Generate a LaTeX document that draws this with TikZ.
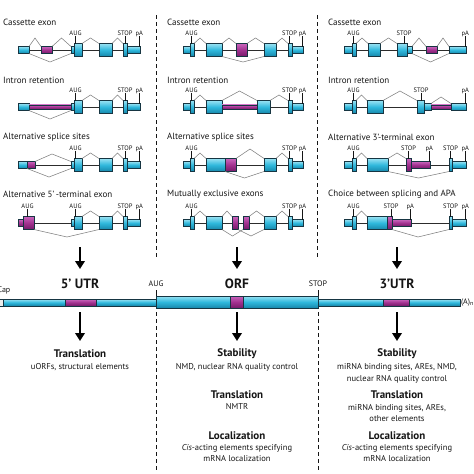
\documentclass[tikz,border=0pt]{standalone}
\usepackage{fontspec}
\setmainfont{PT Sans}
\usetikzlibrary{arrows.meta,backgrounds}
\definecolor{cyM}{HTML}{2FB8DC}
\definecolor{cyL}{HTML}{98E2F3}
\definecolor{cyD}{HTML}{1787AB}
\definecolor{puM}{HTML}{A2318F}
\definecolor{puL}{HTML}{C965BC}
\definecolor{puD}{HTML}{761B69}
\definecolor{exline}{HTML}{163542}
\definecolor{ink}{HTML}{151515}
\definecolor{spl}{HTML}{808080}
\tikzset{
  exc/.style={draw=exline,line width=0.5pt,top color=cyL,bottom color=cyD,middle color=cyM,inner sep=0pt,outer sep=0pt},
  exp/.style={draw=exline,line width=0.5pt,top color=puL,bottom color=puD,middle color=puM,inner sep=0pt,outer sep=0pt},
  capbox/.style={draw=exline,line width=0.5pt,fill=gray!15,inner sep=0pt,outer sep=0pt},
  splice/.style={draw=spl,line width=0.55pt},
  backbone/.style={draw=ink!90,line width=0.8pt},
  tickline/.style={draw=ink,line width=0.6pt},
  glabel/.style={anchor=base,inner sep=0pt,text=ink,font=\fontsize{6.5}{6.5}\selectfont},
  gtitle/.style={anchor=west,inner sep=0pt,text=ink,font=\fontsize{9}{9}\selectfont},
  biglab/.style={inner sep=0pt,text=ink,font=\fontsize{13.5}{13.5}\selectfont\bfseries},
  barlab/.style={inner sep=0pt,text=ink,font=\fontsize{8}{8}\selectfont},
  head/.style={inner sep=0pt,text=ink,font=\fontsize{11}{11}\selectfont\bfseries},
  desc/.style={inner sep=0pt,text=ink,font=\fontsize{8.5}{8.5}\selectfont},
  divider/.style={draw=ink,line width=1pt,dash pattern=on 4pt off 3pt},
  bigarrow/.style={draw=black,line width=2.4pt,-{Triangle[length=8pt,width=9.5pt]}}
}
\newcommand\ex[6]{\node[#6,minimum width={(#3)*1pt-(#2)*1pt},minimum height={#5*1pt}] (#1) at ({(#2+#3)/2},#4) {};}
\newcommand\spl[3]{\draw[splice] (#1) -- (#2) -- (#3);}
\newcommand\gl[5]{\node[glabel] (#1) at (#2,#3) {#5};\draw[tickline] ([yshift=-0.8pt]#1.base) -- (#1.base |- #4.north);}
\begin{document}
\begin{tikzpicture}[x=1pt,y=-1pt]
\useasboundingbox (0,0) rectangle (474,474);

% ---------- dividers
\coordinate (d1a) at (156,15); \coordinate (d1b) at (156,258);
\coordinate (d1c) at (156,312); \coordinate (d1d) at (156,470);
\coordinate (d2a) at (317,15); \coordinate (d2b) at (317,258);
\coordinate (d2c) at (318,312); \coordinate (d2d) at (318,470);
\draw[divider] (d1a) -- (d1b); \draw[divider] (d1c) -- (d1d);
\draw[divider] (d2a) -- (d2b); \draw[divider] (d2c) -- (d2d);

% ---------- titles
\node[gtitle] (t11) at (3,22) {Cassette exon};
\node[gtitle] (t12) at (3,80) {Intron retention};
\node[gtitle] (t13) at (3,137) {Alternative splice sites};
\node[gtitle] (t14) at (3,194) {Alternative 5’\,-terminal exon};
\node[gtitle] (t21) at (167,22) {Cassette exon};
\node[gtitle] (t22) at (167,80) {Intron retention};
\node[gtitle] (t23) at (167,137) {Alternative splice sites};
\node[gtitle] (t24) at (167,194) {Mutually exclusive exons};
\node[gtitle] (t31) at (328,22) {Cassette exon};
\node[gtitle] (t32) at (328,80) {Intron retention};
\node[gtitle] (t33) at (328,137) {Alternative 3’-terminal exon};
\node[gtitle] (t34) at (328,194) {Choice between splicing and APA};

% ================= COLUMN 1
% row 1
\ex{a1}{18}{29}{50}{7}{exc}
\ex{a1p}{41}{52}{50}{7}{exp}
\ex{a1b}{71}{74}{50}{7}{exc}
\ex{a1B}{74}{82}{50}{13}{exc}
\ex{a1c}{99}{112}{50}{13}{exc}
\ex{a1d}{123}{127}{50}{13}{exc}
\ex{a1D}{127}{140}{50}{7}{exc}
\spl{a1.north east}{35,38}{a1p.north west}
\spl{a1p.north east}{61.5,38}{a1b.north west}
\spl{a1B.north east}{90.5,38}{a1c.north west}
\spl{a1c.north east}{117.5,38}{a1d.north west}
\spl{a1.south east}{50,62}{a1b.south west}
\gl{a1l1}{75.5}{35}{a1B}{AUG}
\gl{a1l2}{125}{35}{a1d}{STOP}
\gl{a1l3}{139.3}{35}{a1D}{pA}
% row 2
\ex{a2}{18}{29}{107}{7}{exc}
\ex{a2p}{29}{71}{107}{4.5}{exp}
\ex{a2b}{71}{74}{107}{7}{exc}
\ex{a2B}{74}{82}{107}{13}{exc}
\ex{a2c}{99}{112}{107}{13}{exc}
\ex{a2d}{123}{127}{107}{13}{exc}
\ex{a2D}{127}{140}{107}{7}{exc}
\spl{a2B.north east}{90.5,95}{a2c.north west}
\spl{a2c.north east}{117.5,95}{a2d.north west}
\spl{a2.south east}{50,119}{a2b.south west}
\gl{a2l1}{75.5}{92}{a2B}{AUG}
\gl{a2l2}{125}{92}{a2d}{STOP}
\gl{a2l3}{139.3}{92}{a2D}{pA}
% row 3
\ex{a3}{18}{27}{165}{7}{exc}
\ex{a3p}{27}{35}{165}{7}{exp}
\ex{a3b}{71}{74}{165}{7}{exc}
\ex{a3B}{74}{82}{165}{13}{exc}
\ex{a3c}{99}{112}{165}{13}{exc}
\ex{a3d}{123}{127}{165}{13}{exc}
\ex{a3D}{127}{140}{165}{7}{exc}
\spl{a3p.north east}{52,154}{a3b.north west}
\spl{a3.south east}{49,177}{a3b.south west}
\spl{a3B.north east}{90.5,153}{a3c.north west}
\spl{a3c.north east}{117.5,153}{a3d.north west}
\gl{a3l1}{75.5}{150}{a3B}{AUG}
\gl{a3l2}{125}{150}{a3d}{STOP}
\gl{a3l3}{139.3}{150}{a3D}{pA}
% row 4
\ex{a4}{18}{23}{223}{7}{exp}
\ex{a4P}{23}{34}{223}{13}{exp}
\ex{a4b}{71}{74}{223}{7}{exc}
\ex{a4B}{74}{82}{223}{13}{exc}
\ex{a4c}{99}{112}{223}{13}{exc}
\ex{a4d}{123}{127}{223}{13}{exc}
\ex{a4D}{127}{140}{223}{7}{exc}
\spl{a4B.north east}{90.5,211}{a4c.north west}
\spl{a4c.north east}{117.5,211}{a4d.north west}
\spl{a4P.south east}{67,237}{a4c.south west}
\gl{a4l0}{27.5}{208}{a4P}{AUG}
\gl{a4l1}{75.5}{208}{a4B}{AUG}
\gl{a4l2}{125}{208}{a4d}{STOP}
\gl{a4l3}{139.3}{208}{a4D}{pA}

% ================= COLUMN 2
% row 1
\ex{b1a}{183}{190}{50}{7}{exc}
\ex{b1A}{190}{194}{50}{13}{exc}
\ex{b1b}{206}{222}{50}{13}{exc}
\ex{b1p}{236}{247}{50}{13}{exp}
\ex{b1c}{264}{276}{50}{13}{exc}
\ex{b1d}{288}{292}{50}{13}{exc}
\ex{b1D}{292}{303}{50}{7}{exc}
\spl{b1A.north east}{200,38}{b1b.north west}
\spl{b1b.north east}{229,38}{b1p.north west}
\spl{b1p.north east}{255.5,38}{b1c.north west}
\spl{b1c.north east}{282,38}{b1d.north west}
\spl{b1b.south east}{243,62}{b1c.south west}
\gl{b1l1}{191.5}{35}{b1A}{AUG}
\gl{b1l2}{289.5}{35}{b1d}{STOP}
\gl{b1l3}{302.5}{35}{b1D}{pA}
% row 2
\ex{b2a}{183}{190}{107}{7}{exc}
\ex{b2A}{190}{194}{107}{13}{exc}
\ex{b2b}{206}{222}{107}{13}{exc}
\ex{b2p}{222}{257}{107}{4.5}{exp}
\ex{b2c}{257}{270}{107}{13}{exc}
\ex{b2d}{288}{292}{107}{13}{exc}
\ex{b2D}{292}{303}{107}{7}{exc}
\spl{b2A.north east}{200,95}{b2b.north west}
\spl{b2b.north east}{239.5,91}{b2c.north west}
\spl{b2c.north east}{279,95}{b2d.north west}
\gl{b2l1}{191.5}{92}{b2A}{AUG}
\gl{b2l2}{289.5}{92}{b2d}{STOP}
\gl{b2l3}{302.5}{92}{b2D}{pA}
% row 3
\ex{b3a}{183}{190}{165}{7}{exc}
\ex{b3A}{190}{194}{165}{13}{exc}
\ex{b3b}{206}{225}{165}{13}{exc}
\ex{b3p}{225}{236}{165}{13}{exp}
\ex{b3c}{264}{276}{165}{13}{exc}
\ex{b3d}{288}{292}{165}{13}{exc}
\ex{b3D}{292}{303}{165}{7}{exc}
\spl{b3A.north east}{200,153}{b3b.north west}
\spl{b3p.north east}{250,149}{b3c.north west}
\spl{b3b.south east}{244.5,178}{b3c.south west}
\spl{b3c.north east}{282,153}{b3d.north west}
\gl{b3l1}{191.5}{150}{b3A}{AUG}
\gl{b3l2}{289.5}{150}{b3d}{STOP}
\gl{b3l3}{302.5}{150}{b3D}{pA}
% row 4
\ex{b4a}{183}{190}{223}{7}{exc}
\ex{b4A}{190}{194}{223}{13}{exc}
\ex{b4b}{206}{222}{223}{13}{exc}
\ex{b4m}{232}{238}{223}{13}{exp}
\ex{b4n}{243}{249}{223}{13}{exp}
\ex{b4c}{264}{276}{223}{13}{exc}
\ex{b4d}{288}{292}{223}{13}{exc}
\ex{b4D}{292}{303}{223}{7}{exc}
\spl{b4A.north east}{200,211}{b4b.north west}
\spl{b4b.north east}{227,211}{b4m.north west}
\spl{b4n.north east}{256.5,211}{b4c.north west}
\spl{b4c.north east}{282,211}{b4d.north west}
\spl{b4b.south east}{232.5,236}{b4n.south west}
\spl{b4m.south east}{251,236}{b4c.south west}
\gl{b4l1}{191.5}{208}{b4A}{AUG}
\gl{b4l2}{289.5}{208}{b4d}{STOP}
\gl{b4l3}{302.5}{208}{b4D}{pA}

% ================= COLUMN 3
% row 1
\ex{c1a}{344}{352}{50}{7}{exc}
\ex{c1A}{352}{356}{50}{13}{exc}
\ex{c1b}{368}{380}{50}{13}{exc}
\ex{c1s}{397}{407}{50}{13}{exc}
\ex{c1S}{407}{412}{50}{7}{exc}
\ex{c1p}{426}{437}{50}{7}{exp}
\ex{c1l}{449}{466}{50}{7}{exc}
\spl{c1A.north east}{362,38}{c1b.north west}
\spl{c1b.north east}{388.5,38}{c1s.north west}
\spl{c1S.north east}{419,38}{c1p.north west}
\spl{c1p.north east}{443,38}{c1l.north west}
\spl{c1S.south east}{430.5,62}{c1l.south west}
\gl{c1l1}{353.5}{35}{c1A}{AUG}
\gl{c1l2}{404}{35}{c1s}{STOP}
\gl{c1l3}{465.3}{35}{c1l}{pA}
% row 2
\ex{c2a}{344}{352}{107}{7}{exc}
\ex{c2A}{352}{356}{107}{13}{exc}
\ex{c2b}{367}{383}{107}{13}{exc}
\ex{c2s}{417}{424}{107}{13}{exc}
\ex{c2S}{424}{431}{107}{7}{exc}
\ex{c2p}{431}{451}{107}{4.5}{exp}
\ex{c2l}{451}{466}{107}{7}{exc}
\spl{c2A.north east}{361.5,95}{c2b.north west}
\spl{c2b.north east}{400,91}{c2s.north west}
\spl{c2S.north east}{441,97}{c2l.north west}
\gl{c2l1}{353.5}{92}{c2A}{AUG}
\gl{c2l2}{421}{92}{c2s}{STOP}
\gl{c2l3}{465.3}{92}{c2l}{pA}
% row 3
\ex{c3a}{344}{352}{165}{7}{exc}
\ex{c3A}{352}{356}{165}{13}{exc}
\ex{c3b}{367}{388}{165}{13}{exc}
\ex{c3p}{406}{411}{165}{13}{exp}
\ex{c3P}{411}{430}{165}{7}{exp}
\ex{c3l}{449}{452}{165}{13}{exc}
\ex{c3L}{452}{466}{165}{7}{exc}
\spl{c3A.north east}{361.5,153}{c3b.north west}
\spl{c3b.north east}{397,153}{c3p.north west}
\spl{c3b.south east}{418.5,178}{c3l.south west}
\gl{c3l1}{353.5}{150}{c3A}{AUG}
\gl{c3l2}{408.5}{150}{c3p}{STOP}
\gl{c3l3}{429.3}{150}{c3P}{pA}
\gl{c3l4}{450.5}{150}{c3l}{STOP}
\gl{c3l5}{465.3}{150}{c3L}{pA}
% row 4
\ex{c4a}{344}{352}{223}{7}{exc}
\ex{c4A}{352}{356}{223}{13}{exc}
\ex{c4b}{367}{387}{223}{13}{exc}
\ex{c4p}{387}{392}{223}{13}{exp}
\ex{c4P}{392}{411}{223}{7}{exp}
\ex{c4l}{449}{452}{223}{13}{exc}
\ex{c4L}{452}{466}{223}{7}{exc}
\spl{c4A.north east}{361.5,211}{c4b.north west}
\spl{c4p.south east}{418,237}{c4l.south west}
\gl{c4l1}{353.5}{208}{c4A}{AUG}
\gl{c4l2}{391}{208}{c4p}{STOP}
\gl{c4l3}{410.3}{208}{c4P}{pA}
\gl{c4l4}{450.5}{208}{c4l}{STOP}
\gl{c4l5}{465.3}{208}{c4L}{pA}

% ---------- backbones (behind exons)
\begin{pgfonlayer}{background}
\draw[backbone] (a1.west) -- (a1D.east);
\draw[backbone] (a2.west) -- (a2D.east);
\draw[backbone] (a3.west) -- (a3D.east);
\draw[backbone] (a4.west) -- (a4D.east);
\draw[backbone] (b1a.west) -- (b1D.east);
\draw[backbone] (b2a.west) -- (b2D.east);
\draw[backbone] (b3a.west) -- (b3D.east);
\draw[backbone] (b4a.west) -- (b4D.east);
\draw[backbone] (c1a.west) -- (c1l.east);
\draw[backbone] (c2a.west) -- (c2l.east);
\draw[backbone] (c3a.west) -- (c3L.east);
\draw[backbone] (c4a.west) -- (c4L.east);
\end{pgfonlayer}

% ---------- arrows to the mRNA
\coordinate (u1s) at (80,247); \coordinate (u1e) at (80,269);
\coordinate (u2s) at (237,247); \coordinate (u2e) at (237,269);
\coordinate (u3s) at (397,247); \coordinate (u3e) at (397,269);
\draw[bigarrow] (u1s) -- (u1e);
\draw[bigarrow] (u2s) -- (u2e);
\draw[bigarrow] (u3s) -- (u3e);

\node[biglab] (utr5) at (80,284) {5’ UTR};
\node[biglab] (orfl) at (237,284) {ORF};
\node[biglab] (utr3) at (397,284) {3’UTR};

% ---------- mRNA bar
\ex{bar5}{3}{156}{302.5}{6.5}{exc}
\ex{orf}{156}{318}{302}{12}{exc}
\ex{bar3}{318}{460}{302.5}{6.5}{exc}
\ex{bp5}{65}{96}{302.5}{6.5}{exp}
\ex{bporf}{230}{243}{302}{12}{exp}
\ex{bp3}{383}{409}{302.5}{6.5}{exp}
\node[capbox,minimum width=4pt,minimum height=6.5pt] (cap) at (1.5,302.5) {};
\node[barlab,anchor=east] (capl) at (10.5,290.5) {Cap};
\node[barlab,anchor=west] (polya) at (460.8,303) {(A)\textsubscript{n}};
\node[barlab] (augl) at (156,284) {AUG};
\node[barlab] (stopl) at (318,284) {STOP};
\draw[tickline] ([yshift=-3pt]augl.south) -- (orf.north west);
\draw[tickline] ([yshift=-3pt]stopl.south) -- (orf.north east);

% ---------- arrows to functions
\coordinate (v1s) at (80,312); \coordinate (v1e) at (80,341);
\coordinate (v2s) at (237,312); \coordinate (v2e) at (237,341);
\coordinate (v3s) at (397,312); \coordinate (v3e) at (397,341);
\draw[bigarrow] (v1s) -- (v1e);
\draw[bigarrow] (v2s) -- (v2e);
\draw[bigarrow] (v3s) -- (v3e);

% ---------- functions
\node[head] (f1h) at (80,354) {Translation};
\node[desc] (f1d) at (80,367) {uORFs, structural elements};

\node[head] (f2h1) at (237,354) {Stability};
\node[desc] (f2d1) at (237,367) {NMD, nuclear RNA quality control};
\node[head] (f2h2) at (237,395) {Translation};
\node[desc] (f2d2) at (237,407) {NMTR};
\node[head] (f2h3) at (237,436) {Localization};
\node[desc] (f2d3) at (237,448) {\textit{Cis}-acting elements specifying};
\node[desc] (f2d4) at (237,459) {mRNA localization};

\node[head] (f3h1) at (397,354) {Stability};
\node[desc] (f3d1) at (397,367) {miRNA binding sites, AREs, NMD,};
\node[desc] (f3d2) at (397,379) {nuclear RNA quality control};
\node[head] (f3h2) at (397,395) {Translation};
\node[desc] (f3d3) at (397,408) {miRNA binding sites, AREs,};
\node[desc] (f3d4) at (397,419) {other elements};
\node[head] (f3h3) at (397,436) {Localization};
\node[desc] (f3d5) at (397,448) {\textit{Cis}-acting elements specifying};
\node[desc] (f3d6) at (397,459) {mRNA localization};
\end{tikzpicture}
\end{document}
